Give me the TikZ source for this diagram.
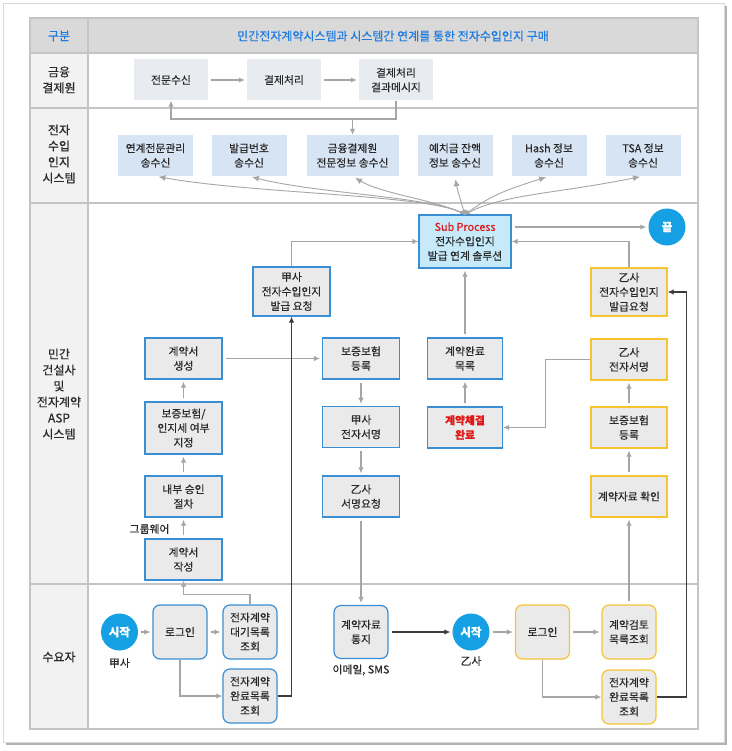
\documentclass[tikz,border=0pt]{standalone}
\usepackage{fontspec}
\setmainfont{Noto Sans CJK KR}[FakeBold=0.35]
\usetikzlibrary{arrows.meta, positioning, calc}
\definecolor{hdrblue}{RGB}{30,122,224}
\definecolor{gridgray}{RGB}{196,196,196}
\definecolor{headfill}{RGB}{217,217,217}
\definecolor{colfill}{RGB}{242,242,242}
\definecolor{finfill}{RGB}{232,235,240}
\definecolor{sysfill}{RGB}{214,228,243}
\definecolor{boxgray}{RGB}{234,234,234}
\definecolor{aspblue}{RGB}{58,143,212}
\definecolor{buyeryellow}{RGB}{247,196,48}
\definecolor{subfill}{RGB}{198,234,250}
\definecolor{startblue}{RGB}{20,160,226}
\definecolor{arrgray}{RGB}{166,166,166}
\definecolor{arrdark}{RGB}{60,60,60}
\definecolor{txtdark}{RGB}{40,40,40}
\definecolor{redtxt}{RGB}{222,24,24}
\tikzset{
  headtxt/.style={font=\fontsize{12}{14}\selectfont, text=hdrblue},
  rowlbl/.style={align=center, font=\fontsize{12}{16}\selectfont, text=txtdark},
  finbox/.style={
    rectangle, fill=finfill, minimum width=74pt, minimum height=41pt,
    inner sep=0pt, align=center, font=\fontsize{10.8}{14.5}\selectfont, text=txtdark
  },
  sysbox/.style={
    rectangle, fill=sysfill, minimum width=75pt, minimum height=41pt,
    inner sep=0pt, align=center, font=\fontsize{10.8}{14.5}\selectfont, text=txtdark
  },
  aspbox/.style={
    rectangle, draw=aspblue, line width=1.2pt, fill=boxgray, minimum width=77pt,
    minimum height=41pt, inner sep=0pt, align=center,
    font=\fontsize{10.8}{14.5}\selectfont, text=txtdark
  },
  buyerbox/.style={aspbox, draw=buyeryellow, minimum width=76pt},
  userbox/.style={aspbox, rounded corners=7pt, minimum width=54pt, minimum height=54pt},
  subbox/.style={aspbox, fill=subfill, minimum width=92pt, minimum height=53pt},
  startnode/.style={
    circle, fill=startblue, minimum size=37pt, inner sep=0pt,
    text=white, font=\fontsize{11.5}{14}\selectfont\bfseries
  },
  note/.style={font=\fontsize{10.8}{13}\selectfont, text=txtdark},
  flow/.style={-{Latex[length=6pt,width=5.5pt]}, line width=1.1pt, draw=arrgray},
  gap/.style={shorten <=3pt, shorten >=2pt},
  darkflow/.style={-{Latex[length=6pt,width=5.5pt]}, line width=1.1pt, draw=arrdark},
  fan/.style={-{Latex[length=7pt,width=6pt]}, line width=0.9pt, draw=arrgray, shorten >=3pt}
}

\begin{document}
\begin{tikzpicture}[x=1pt, y=-1pt]
\useasboundingbox (0,0) rectangle (731,751);

% Card and table
\fill[black!30] (6,6) rectangle (727,745);
\filldraw[fill=white, draw=black!15] (3,3) rectangle (724,742);
\fill[headfill] (30,18) rectangle (698,53);
\fill[colfill] (30,53) rectangle (88,729);
\draw[gridgray, line width=1.2pt] (30,18) rectangle (698,729);
\foreach \y in {53,108,203,584}
  \draw[gridgray, line width=1.2pt] (30,\y) -- (698,\y);
\draw[gridgray, line width=1.2pt] (88,18) -- (88,729);

% Header and row labels
\node[headtxt] (hdr-kind) at (59,36) {구분};
\node[headtxt] (hdr-title) at (393,36) {민간전자계약시스템과 시스템간 연계를 통한 전자수입인지 구매};
\node[rowlbl] (lbl-fin) at (59,80) {금융\\결제원};
\node[rowlbl] (lbl-stamp) at (59,154) {전자\\수입\\인지\\시스템};
\node[rowlbl] (lbl-asp) at (59,394) {민간\\건설사\\및\\전자계약\\ASP\\시스템};
\node[rowlbl] (lbl-user) at (59,657) {수요자};

% Fan hub under the sub process box
\fill[arrgray] (465,215) circle (5.5pt);

% Financial row
\node[finbox] (recv) at (171,80) {전문수신};
\node[finbox] (settle) at (284,80) {결제처리};
\node[finbox] (result) at (396,80) {결제처리\\결과메시지};
\coordinate (split) at (352.5,119);

% Stamp system row
\node[sysbox] (sys1) at (155.5,155.5) {연계전문관리\\송수신};
\node[sysbox] (sys2) at (249,155.5) {발급번호\\송수신};
\node[sysbox, minimum width=92pt] (sys3) at (352.5,155.5) {금융결제원\\전문정보 송수신};
\node[sysbox] (sys4) at (455,155.5) {예치금 잔액\\정보 송수신};
\node[sysbox] (sys5) at (549,155.5) {Hash 정보\\송수신};
\node[sysbox] (sys6) at (643,155.5) {TSA 정보\\송수신};

% ASP row
\node[subbox] (sub) at (465,241.5) {{\color{redtxt}Sub Process}\\전자수입인지\\발급 연계 솔루션};
\node[startnode] (endc) at (667,227) {끝};
\node[aspbox, minimum height=49pt] (reqA) at (291.5,291.5) {甲사\\전자수입인지\\발급 요청};
\node[buyerbox, minimum height=48pt] (reqB) at (629,292) {乙사\\전자수입인지\\발급요청};

\node[aspbox] (draftA) at (183.5,358.5) {계약서\\생성};
\node[aspbox, minimum height=52pt] (bondSet) at (183.5,428) {보증보험/\\인지세 여부\\지정};
\node[aspbox] (approve) at (183.5,496.5) {내부 승인\\절차};
\node[aspbox] (write) at (183.5,559.5) {계약서\\작성};
\node[note, anchor=east] (groupware) at (173,529) {그룹웨어};

\node[aspbox] (bondA) at (361,358.5) {보증보험\\등록};
\node[aspbox] (signA) at (361,427) {甲사\\전자서명};
\node[aspbox] (askB) at (361,496.5) {乙사\\서명요청};

\node[aspbox, minimum width=75pt] (doneList) at (465,358.5) {계약완료\\목록};
\node[aspbox, minimum width=75pt, text=redtxt, font=\fontsize{10.8}{14.5}\selectfont\bfseries] (closed) at (465,427.5) {계약체결\\완료};

\node[buyerbox] (signB) at (629,359.5) {乙사\\전자서명};
\node[buyerbox] (bondB) at (629,427.5) {보증보험\\등록};
\node[buyerbox] (checkB) at (629,496.5) {계약자료 확인};

% Buyer row
\node[startnode] (startA) at (119.5,632) {시작};
\node[note] (startA-lbl) at (119.5,663) {甲사};
\node[userbox] (loginA) at (180,632) {로그인};
\node[userbox] (waitA) at (250,632) {전자계약\\대기목록\\조회};
\node[userbox] (doneA) at (250,696) {전자계약\\완료목록\\조회};
\node[userbox, minimum height=53pt] (notify) at (361,632) {계약자료\\통지};
\node[note] (notify-lbl) at (361,670) {이메일, SMS};
\node[startnode] (startB) at (471,632) {시작};
\node[note] (startB-lbl) at (471,661) {乙사};
\node[userbox, draw=buyeryellow] (loginB) at (542.5,632) {로그인};
\node[userbox, draw=buyeryellow] (reviewB) at (629,632) {계약검토\\목록조회};
\node[userbox, draw=buyeryellow] (doneB) at (629,697) {전자계약\\완료목록\\조회};

% Straight arrows
\foreach \a/\b in {recv/settle, settle/result, draftA/bondA, write/approve, approve/bondSet,
  bondSet/draftA, bondA/signA, signA/askB, askB/notify, closed/doneList, doneList/sub,
  reviewB/checkB, checkB/bondB, bondB/signB, startA/loginA, loginA/waitA, startB/loginB,
  loginB/reviewB}
  \draw[flow, gap] (\a) -- (\b);

% Elbow arrows
\draw[flow] (result.south) |- (split) -| (recv.south);
\draw[flow] (split) -- (sys3);
\draw[flow] (reqA.north) |- (sub.west);
\draw[flow] (reqB.north) |- (sub.east);
\draw[flow, gap] (sub.east |- endc) -- (endc);
\draw[flow] (waitA.north) -- ++(0,-10) -| (write.south);
\draw[flow] (loginA.south) |- (doneA.west);
\draw[flow] (loginB.south) |- (doneB.west);
\draw[flow] (signB.west) -- ++(-44.5,0) |- (closed.east);
\draw[darkflow] (doneA.east) -| (reqA.south);
\draw[darkflow] (doneB.east) -- ++(30,0) |- (reqB.east);
\draw[darkflow, gap] (notify) -- (startB);

% Fan to the stamp system
\draw[fan] (sub.north) .. controls +(-30,-20) and +(100,18) .. (sys1.south);
\draw[fan] (sub.north) .. controls +(-30,-18) and +(70,18) .. (sys2.south);
\draw[fan] (sub.north) .. controls +(-30,-15) and +(30,18) .. (sys3.south);
\draw[fan] (sub.north) .. controls +(-4,-12) and +(2,12) .. (sys4.south);
\draw[fan] (sub.north) .. controls +(25,-18) and +(-50,16) .. (sys5.south);
\draw[fan] (sub.north) .. controls +(35,-20) and +(-90,18) .. (sys6.south);

\end{tikzpicture}
\end{document}
